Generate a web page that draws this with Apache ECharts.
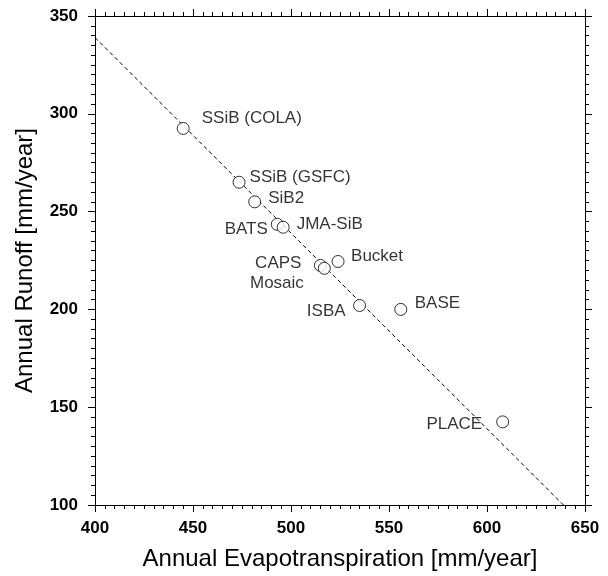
<!DOCTYPE html>
<html>
<head>
<meta charset="utf-8">
<script src="https://cdn.jsdelivr.net/npm/echarts@6/dist/echarts.min.js"></script>
<style>html,body{margin:0;padding:0;background:#fff;}#c{width:608px;height:576px;}</style>
</head>
<body>
<div id="c"></div>
<script>
var models = ['SSiB (COLA)','SSiB (GSFC)','SiB2','BATS','JMA-SiB','CAPS','Mosaic','Bucket','ISBA','BASE','PLACE'];
var evap   = [445, 473.5, 481.5, 493, 496, 515, 517, 524, 535, 556, 608];
var runoff = [292.5, 265, 255, 243.5, 242, 222.5, 221, 224.5, 202, 200, 142.5];
var fitLine = [[400, 339], [639, 100]];
var xTicks = [400, 450, 500, 550, 600, 650];
var yTicks = [100, 150, 200, 250, 300, 350];

// label placement (style only)
var R = 6;
var labelPlace = [
  ['right', 12, -10], ['right', 4, -5], ['right', 7, -4], ['left', -3, 5], ['right', 7, -3],
  ['left', -12.5, -2], ['left', -14, 15], ['right', 6.5, -5], ['left', -7.5, 6], ['right', 7.5, -6.5], ['left', -14, 2.5]
];

var FONT = 'Liberation Sans, Arial, Helvetica, sans-serif';
var pts = models.map(function (m, i) {
  var lp = labelPlace[i];
  return {
    name: m,
    value: [evap[i], runoff[i]],
    label: {
      show: true, formatter: m, position: lp[0], distance: 0, offset: [lp[1], lp[2]],
      color: '#000', fontFamily: FONT, fontSize: 17
    }
  };
});

function axisBase(pos, showLabel, min, max) {
  return {
    type: 'value', position: pos, min: min, max: max, interval: 50,
    axisLine: { show: true, onZero: false, lineStyle: { color: '#000', width: 1 } },
    axisTick: { show: true, inside: false, length: 7, lineStyle: { color: '#000', width: 1 } },
    minorTick: { show: true, splitNumber: 10, length: 4, lineStyle: { color: '#000', width: 1 } },
    splitLine: { show: false },
    axisLabel: { show: showLabel, color: '#000', fontFamily: FONT, fontWeight: 'bold', fontSize: 17 }
  };
}

var xBottom = axisBase('bottom', true, xTicks[0], xTicks[xTicks.length - 1]);
xBottom.name = 'Annual Evapotranspiration [mm/year]';
xBottom.nameLocation = 'middle';
xBottom.nameGap = 42;
xBottom.nameTextStyle = { color: '#000', fontFamily: FONT, fontSize: 24 };
xBottom.axisLabel.margin = 15;
var xTop = axisBase('top', false, xTicks[0], xTicks[xTicks.length - 1]);

var yLeft = axisBase('left', true, yTicks[0], yTicks[yTicks.length - 1]);
yLeft.name = 'Annual Runoff [mm/year]';
yLeft.nameLocation = 'middle';
yLeft.nameGap = 58;
yLeft.nameTextStyle = { color: '#000', fontFamily: FONT, fontSize: 24 };
yLeft.axisLabel.margin = 17;
var yRight = axisBase('right', false, yTicks[0], yTicks[yTicks.length - 1]);

var chart = echarts.init(document.getElementById('c'), null, { renderer: 'canvas' });
chart.setOption({
  backgroundColor: '#fff',
  animation: false,
  grid: { left: 95, right: 23, top: 16, bottom: 69 },
  xAxis: [xBottom, xTop],
  yAxis: [yLeft, yRight],
  series: [
    {
      type: 'line', xAxisIndex: 0, yAxisIndex: 0, data: fitLine, symbol: 'none', silent: true,
      lineStyle: { color: '#000', width: 1, type: [4, 3] }, z: 1
    },
    {
      type: 'scatter', xAxisIndex: 0, yAxisIndex: 0, data: pts, symbol: 'circle', symbolSize: 12,
      itemStyle: { color: '#fff', borderColor: '#000', borderWidth: 1 }, z: 3
    }
  ]
});
</script>
</body>
</html>
